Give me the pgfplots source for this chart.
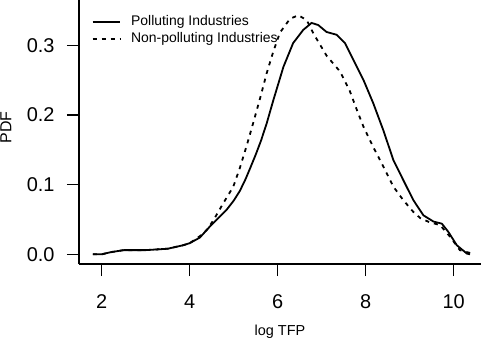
\documentclass[border=0pt]{standalone}
\usepackage{fontspec}
\setmainfont{Liberation Sans}
\usepackage{pgfplots}
\pgfplotsset{compat=1.18}

\begin{document}
\begin{tikzpicture}
\begin{axis}[
    name=ax,
    width=402bp, height=264bp, scale only axis,
    xmin=1.484, xmax=10.62, ymin=-0.0139, ymax=0.3649,
    axis lines=left, axis line style={-, line width=1.3bp},
    every tick/.style={black, line width=1.3bp},
    tick align=outside, major tick length=12bp,
    xtick={2,4,6,8,10}, ytick={0,0.1,0.2,0.3},
    /pgf/number format/assume math mode=true,
    yticklabel style={font=\fontsize{20}{22}\selectfont, xshift=-9bp,
        /pgf/number format/.cd, fixed, fixed zerofill, precision=1},
    xticklabel style={font=\fontsize{20}{22}\selectfont, yshift=-15bp},
    xlabel={log TFP}, ylabel={PDF},
    every axis x label/.style={at={(axis description cs:0.5,-0.269)}, anchor=base,
        font=\fontsize{14.5}{17}\selectfont},
    every axis y label/.style={at={(axis description cs:-0.1816,0.517)}, rotate=90,
        anchor=center, font=\fontsize{16}{18}\selectfont},
    legend style={at={(axis description cs:0.0316,0.941)}, anchor=north west,
        draw=none, fill=none, inner sep=0pt, outer sep=0pt,
        font=\fontsize{14}{16}\selectfont, column sep=10bp, row sep=4.8bp,
        nodes={inner sep=0pt, text height=10bp, text depth=2.5bp}},
    legend cell align=left,
    legend image code/.code={\draw[#1, line width=1.8bp] (0bp,0bp) -- (27.6bp,0bp);},
]
\addplot[black, line width=1.8bp] coordinates {
    (1.80,0.000) (2.00,0.000) (2.20,0.003) (2.50,0.006) (3.00,0.006)
    (3.50,0.008) (3.85,0.013) (4.00,0.016) (4.23,0.024) (4.46,0.040)
    (4.65,0.052) (4.84,0.064) (5.00,0.077) (5.14,0.091) (5.27,0.108)
    (5.37,0.123) (5.50,0.143) (5.62,0.163) (5.75,0.188) (5.90,0.221)
    (6.13,0.269) (6.35,0.303) (6.58,0.322) (6.77,0.332) (6.92,0.329)
    (7.11,0.319) (7.34,0.315) (7.53,0.303) (7.72,0.279) (7.95,0.250)
    (8.17,0.217) (8.40,0.178) (8.63,0.135) (8.85,0.107) (9.08,0.078)
    (9.31,0.056) (9.54,0.047) (9.73,0.044) (9.88,0.032) (10.07,0.013)
    (10.30,0.001) (10.37,0.000)
};
\addlegendentry{Polluting Industries}
\addplot[black, line width=1.8bp, dash pattern=on 4bp off 5bp] coordinates {
    (1.80,0.000) (2.00,0.000) (2.20,0.003) (2.50,0.006) (3.00,0.006)
    (3.50,0.008) (3.85,0.013) (4.00,0.016) (4.23,0.026) (4.39,0.035)
    (4.54,0.049) (4.76,0.073) (4.99,0.097) (5.14,0.124) (5.30,0.157)
    (5.45,0.190) (5.60,0.224) (5.75,0.260) (5.90,0.291) (6.05,0.318)
    (6.28,0.338) (6.47,0.343) (6.66,0.336) (6.81,0.317) (7.11,0.285)
    (7.42,0.262) (7.64,0.234) (7.80,0.207) (7.95,0.183) (8.17,0.154)
    (8.40,0.126) (8.63,0.097) (8.85,0.078) (9.08,0.061) (9.24,0.052)
    (9.45,0.046) (9.69,0.042) (9.92,0.025) (10.14,0.006) (10.48,0.000)
};
\addlegendentry{Non-polluting Industries}
\end{axis}
\pgfresetboundingbox
\path[use as bounding box] ([xshift=-79bp,yshift=-74bp]ax.south west)
    rectangle ([xshift=3bp]ax.north east);
\end{tikzpicture}
\end{document}
